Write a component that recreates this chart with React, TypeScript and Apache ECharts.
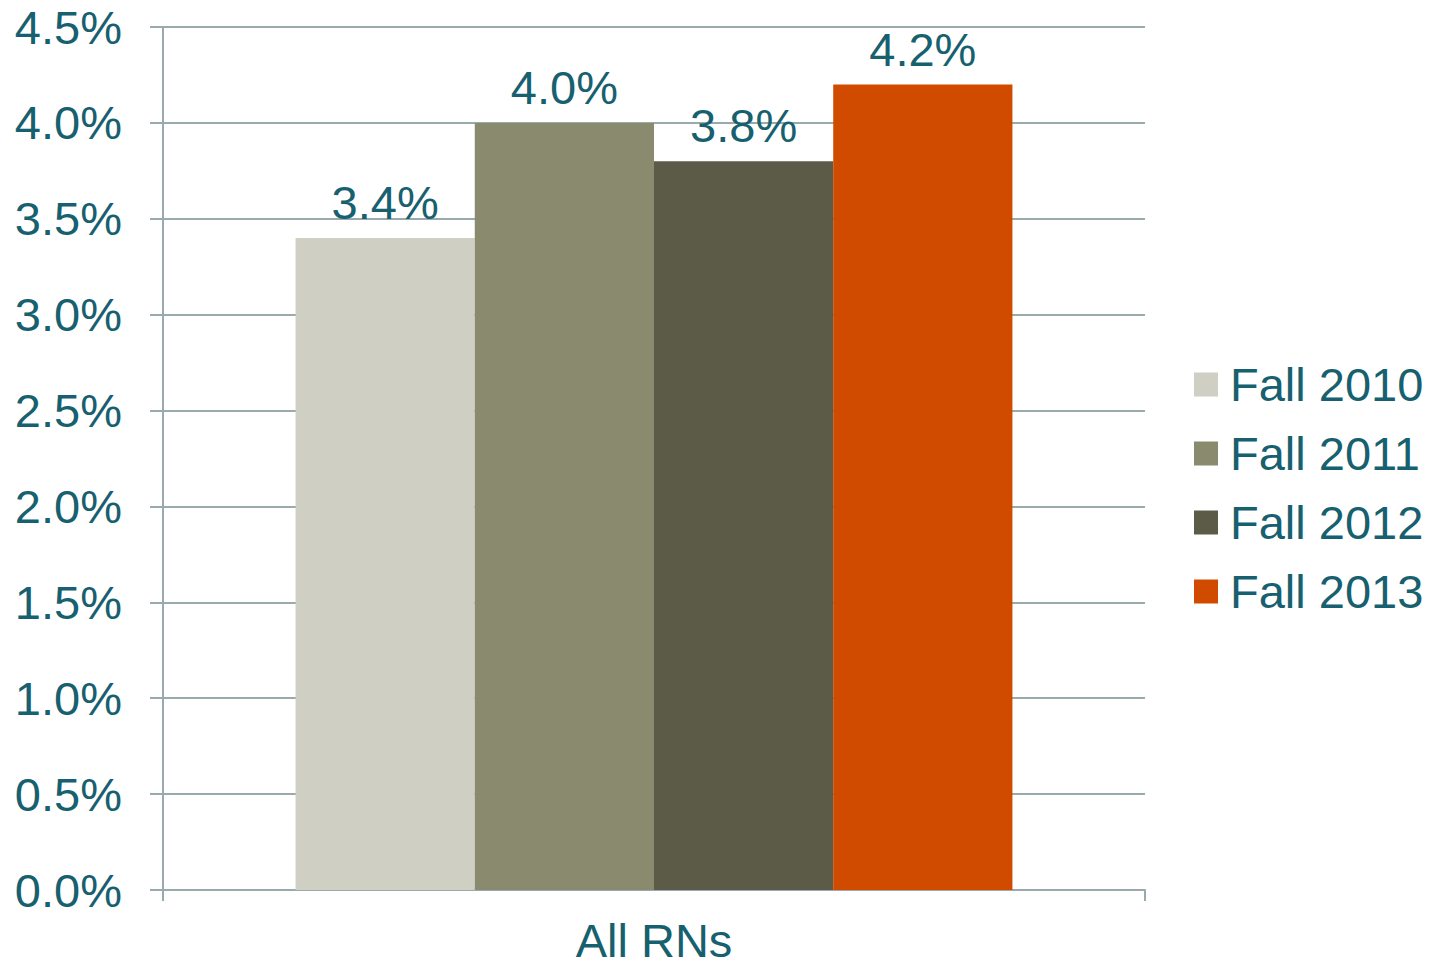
import React, { useEffect, useRef } from "react";
import * as echarts from "echarts";

const categories = ["All RNs"];
const seriesNames = ["Fall 2010", "Fall 2011", "Fall 2012", "Fall 2013"];
const seriesValues = [[3.4], [4.0], [3.8], [4.2]];
const seriesColors = ["#CFCFC3", "#8A8A6E", "#5C5B48", "#D04B00"];
const yMin = 0;
const yMax = 4.5;
const yInterval = 0.5;

const textColor = "#17606F";
const axisColor = "#9AA9AD";
const fontFamily = "'Liberation Sans', Arial, sans-serif";
const fs = 47;

export default function App() {
  const ref = useRef<HTMLDivElement>(null);
  useEffect(() => {
    if (!ref.current) return;
    const chart = echarts.init(ref.current, undefined, { renderer: "svg" });
    chart.setOption({
      animation: false,
      textStyle: { fontFamily },
      grid: {
        left: 163,
        right: 302,
        top: 27,
        bottom: 77,
        containLabel: false,
        outerBoundsMode: "none",
      },
      legend: {
        orient: "vertical",
        left: 1189,
        top: 356,
        itemWidth: 24,
        itemHeight: 24,
        itemGap: 22,
        icon: "rect",
        data: seriesNames,
        textStyle: { color: textColor, fontSize: fs, fontFamily, padding: [0, 0, 0, 7] },
      },
      xAxis: {
        type: "category",
        data: categories,
        axisLine: { show: true, lineStyle: { color: axisColor, width: 2 } },
        axisTick: { show: true, length: 11, lineStyle: { color: axisColor, width: 2 } },
        axisLabel: { color: textColor, fontSize: fs, fontFamily, margin: 31, lineHeight: 38 },
      },
      yAxis: {
        type: "value",
        min: yMin,
        max: yMax,
        interval: yInterval,
        axisLine: { show: true, lineStyle: { color: axisColor, width: 2 } },
        axisTick: { show: true, length: 13, lineStyle: { color: axisColor, width: 2 } },
        splitLine: { show: true, lineStyle: { color: axisColor, width: 2 } },
        axisLabel: {
          color: textColor,
          fontSize: fs,
          fontFamily,
          margin: 41,
          formatter: (v: number) => v.toFixed(1) + "%",
        },
      },
      series: seriesNames.map((name, i) => ({
        name,
        type: "bar",
        data: seriesValues[i],
        barGap: "0%",
        barCategoryGap: "27%",
        itemStyle: { color: seriesColors[i] },
        label: {
          show: true,
          position: "top",
          distance: 12,
          color: textColor,
          fontSize: fs,
          fontFamily,
          formatter: (p: any) => Number(p.value).toFixed(1) + "%",
        },
      })),
    });
    return () => chart.dispose();
  }, []);
  return (
    <div
      ref={ref}
      style={{ position: "fixed", left: 0, top: 0, width: 1447, height: 967, background: "#fff" }}
    />
  );
}
